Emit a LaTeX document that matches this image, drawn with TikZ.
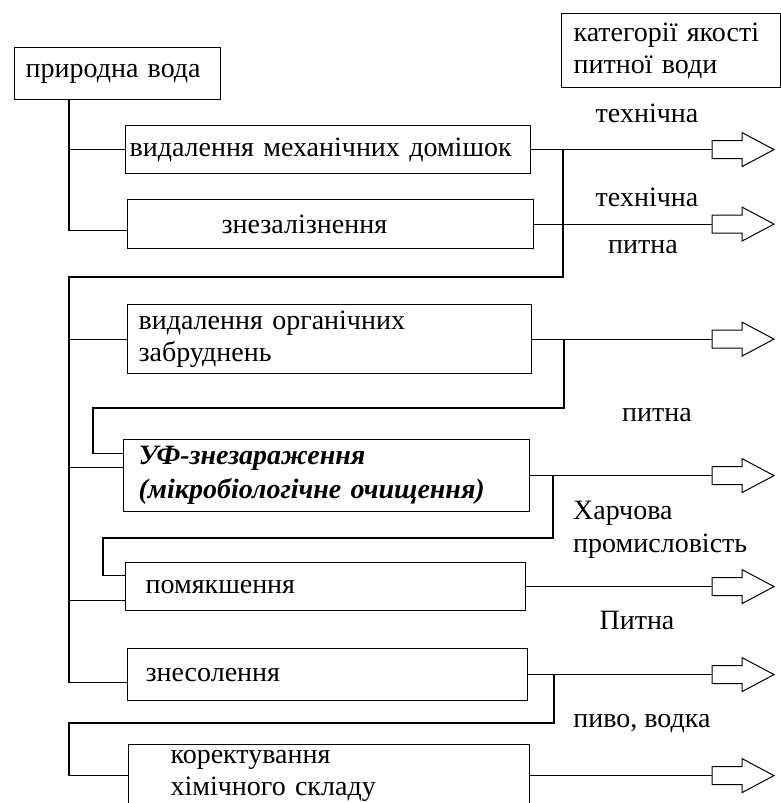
\documentclass[tikz,border=0pt]{standalone}
\usepackage{fontspec}
\setmainfont{Liberation Serif}
\usetikzlibrary{calc}

% hollow output arrow, starting at the given point
\def\outarrow(#1){\draw[hollow] (#1) ++(0,-9) -- ++(30,0) -- ++(0,-8) -- ++(32,17) -- ++(-32,17) -- ++(0,-8) -- ++(-30,0) -- cycle;}

\tikzset{
  stage/.style={draw, line width=1.2pt, align=left, inner ysep=0pt, anchor=north west,
    font=\fontsize{28}{32}\selectfont},
  wire/.style={line width=1.2pt},
  hollow/.style={line width=1pt, fill=white},
  quality/.style={inner sep=0pt, font=\fontsize{28}{33}\selectfont},
}

\begin{document}
\begin{tikzpicture}[x=1pt,y=-1pt]
\clip (0,0) rectangle (781,803);

% stages
\node[stage, minimum height=52, inner xsep=11, text width=184] (src) at (14,47) {природна вода};
\node[stage, minimum height=74, inner xsep=12, text width=195] (cat) at (561,13) {категорії якості\\питної води};
\node[stage, minimum height=48, inner xsep=4, text width=397] (mech) at (125,125) {видалення механічних домішок};
\node[stage, minimum height=49, inner xsep=94, text width=218] (iron) at (127,199) {знезалізнення};
\node[stage, minimum height=69, inner xsep=11, text width=382] (org) at (127,304) {видалення органічних\\забруднень};
\node[stage, minimum height=72, inner xsep=15, text width=376,
  font=\fontsize{28}{34}\selectfont\bfseries\itshape] (uv) at (123,439) {УФ-знезараження\\(мікробіологічне очищення)};
\node[stage, minimum height=48, inner xsep=20, text width=360] (soft) at (125,562) {помякшення};
\node[stage, minimum height=52, inner xsep=18, text width=364] (desal) at (127,648) {знесолення};
\node[stage, minimum height=62, inner xsep=42, text width=317] (corr) at (128,744) {коректування\\хімічного складу};

% quality categories
\node[quality] (q1) at (647,113) {технічна};
\node[quality] (q2) at (647,197) {технічна};
\node[quality] (q3) at (643,247) {питна};
\node[quality] (q4) at (657,415) {питна};
\node[quality, align=left, anchor=west] (q5) at (573,530) {Харчова\\промисловість};
\node[quality] (q6) at (637,620) {Питна};
\node[quality] (q7) at (642,724) {пиво, водка};

% feed lines
\coordinate (ax) at (712,0);
\coordinate (k1) at (69,277);
\coordinate (k2) at (93,408);
\coordinate (k3) at (103,538);
\coordinate (k4) at (69,723);

\draw[wire] ([xshift=55]src.south west) |- ([yshift=-6]iron.west);
\draw[wire] ([xshift=55]src.south west) |- (mech.west);

\draw[wire] (mech.east -| 563,0) |- (k1) |- ([yshift=-8]desal.west);
\draw[wire] (k1) |- (org.west);
\draw[wire] (k1) |- ([yshift=8]uv.west);
\draw[wire] (k1) |- ([yshift=-14]soft.west);

\draw[wire] (org.east -| 564,0) |- (k2) |- ([yshift=22]uv.west);
\draw[wire] (uv.east -| 553,0) |- (k3) |- ([yshift=11]soft.west);
\draw[wire] (desal.east -| 554,0) |- (k4) |- (corr.west);

% outputs
\foreach \s/\o in {mech/o1, iron/o2, org/o3, uv/o4, soft/o5, desal/o6, corr/o7}{
  \coordinate (\o) at (\s.east -| ax);
  \draw[wire] (\s.east) -- (\o);
  \outarrow(\o)
}
\end{tikzpicture}
\end{document}
